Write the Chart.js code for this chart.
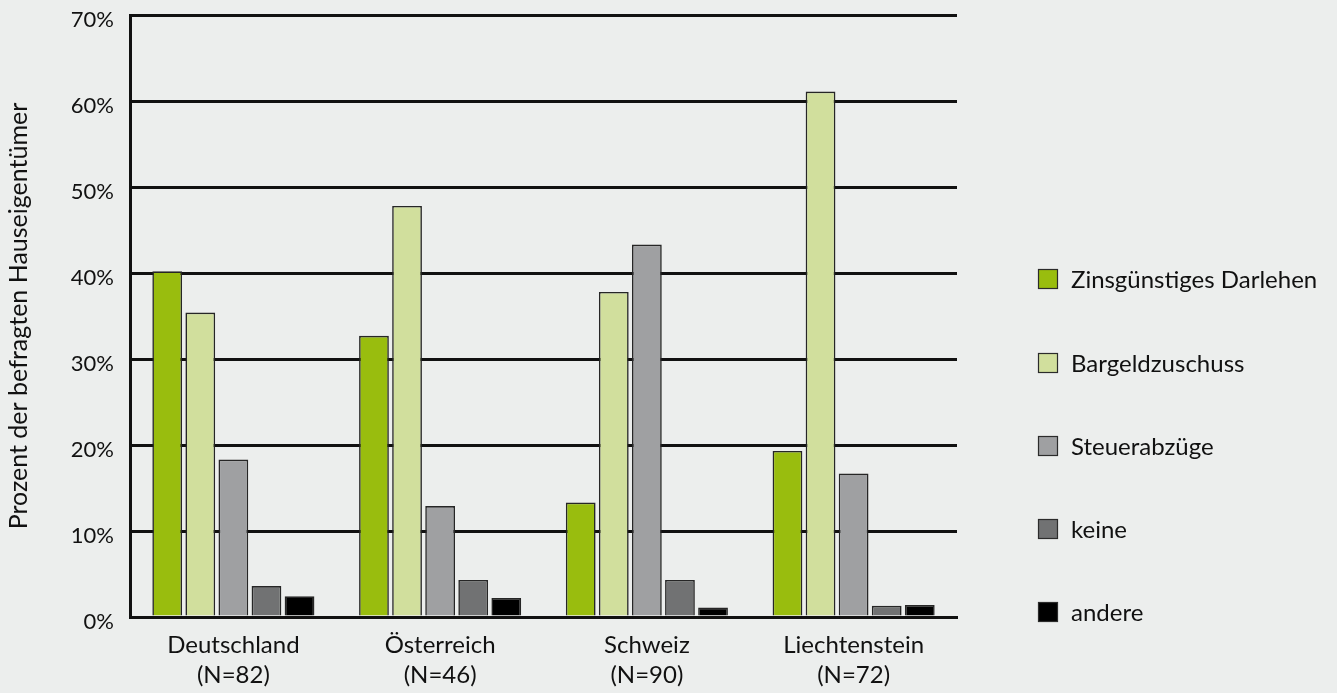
<!DOCTYPE html>
<html>
<head>
<meta charset="utf-8">
<script src="https://cdn.jsdelivr.net/npm/chart.js@4.4.1/dist/chart.umd.min.js"></script>
<style>
  html, body { margin: 0; padding: 0; background: #eceeed; }
  #wrap { width: 1337px; height: 693px; position: relative; }
  canvas { display: block; }
</style>
</head>
<body>
<div id="wrap"><canvas id="c" width="1337" height="693"></canvas></div>
<script>
// ---- data ----
const categories = [["Deutschland", "(N=82)"], ["Österreich", "(N=46)"], ["Schweiz", "(N=90)"], ["Liechtenstein", "(N=72)"]];
const seriesNames = ["Zinsgünstiges Darlehen", "Bargeldzuschuss", "Steuerabzüge", "keine", "andere"];
const zinsguenstig = [40.2, 32.7, 13.3, 19.3];
const bargeld = [35.4, 47.8, 37.8, 61.1];
const steuer = [18.3, 12.9, 43.3, 16.7];
const keine = [3.6, 4.3, 4.3, 1.3];
const andere = [2.4, 2.2, 1.1, 1.4];
const yTicks = [0, 10, 20, 30, 40, 50, 60, 70];
const yTitle = "Prozent der befragten Hauseigentümer";

const colors = ["#99bd0e", "#d1df9d", "#9fa0a2", "#717273", "#000000"];
const seriesData = [zinsguenstig, bargeld, steuer, keine, andere];
const FONT = "Lato";

const legendPlugin = {
  id: 'sideLegend',
  afterDraw(chart) {
    const ctx = chart.ctx;
    const rows = [279, 363, 446, 529, 612];
    ctx.save();
    chart.data.datasets.forEach((ds, i) => {
      const cy = rows[i];
      ctx.fillStyle = ds.backgroundColor;
      ctx.fillRect(1038, cy - 10, 20, 20);
      ctx.strokeStyle = '#2b2b2b';
      ctx.lineWidth = 1.2;
      ctx.strokeRect(1038.5, cy - 9.5, 19, 19);
      ctx.fillStyle = '#111111';
      ctx.font = '24px ' + FONT;
      ctx.textBaseline = 'middle';
      ctx.textAlign = 'left';
      ctx.fillText(ds.label, 1071, cy + 1);
    });
    ctx.restore();
  }
};

const bgPlugin = {
  id: 'bg',
  beforeDraw(chart) {
    const ctx = chart.ctx;
    ctx.save();
    ctx.fillStyle = '#eceeed';
    ctx.fillRect(0, 0, chart.width, chart.height);
    ctx.restore();
  }
};

new Chart(document.getElementById('c'), {
  type: 'bar',
  data: {
    labels: categories,
    datasets: seriesNames.map((name, i) => ({
      label: name,
      data: seriesData[i],
      backgroundColor: colors[i],
      borderColor: '#262626',
      borderWidth: 1.6,
      categoryPercentage: 0.8,
      barPercentage: 0.9
    }))
  },
  options: {
    responsive: false,
    animation: false,
    devicePixelRatio: 1,
    layout: { padding: { left: 0, right: 380, top: 15, bottom: 0 } },
    plugins: {
      legend: { display: false },
      tooltip: { enabled: false }
    },
    scales: {
      x: {
        grid: { display: false, drawTicks: false },
        border: { display: true, color: '#111111', width: 3 },
        ticks: {
          color: '#111111',
          font: { family: FONT, size: 24, lineHeight: 1.25 },
          padding: 13,
          maxRotation: 0,
          autoSkip: false
        },
        afterFit(s) { s.height = 76; s.paddingLeft = 0; s.paddingRight = 0; }
      },
      y: {
        min: 0,
        max: 70,
        afterBuildTicks(s) { s.ticks = yTicks.map(v => ({ value: v })); },
        grid: { color: '#111111', lineWidth: 3, drawTicks: false },
        border: { display: true, color: '#111111', width: 3 },
        ticks: {
          color: '#111111',
          font: { family: FONT, size: 22 },
          padding: 16,
          labelOffset: 5,
          callback: v => v + '%'
        },
        title: {
          display: true,
          text: yTitle,
          color: '#111111',
          font: { family: FONT, size: 25, lineHeight: 1.2 },
          padding: { top: 4, bottom: 0 }
        },
        afterFit(s) { s.width = 130; s.paddingTop = 0; s.paddingBottom = 0; }
      }
    }
  },
  plugins: [bgPlugin, legendPlugin]
});
</script>
</body>
</html>
